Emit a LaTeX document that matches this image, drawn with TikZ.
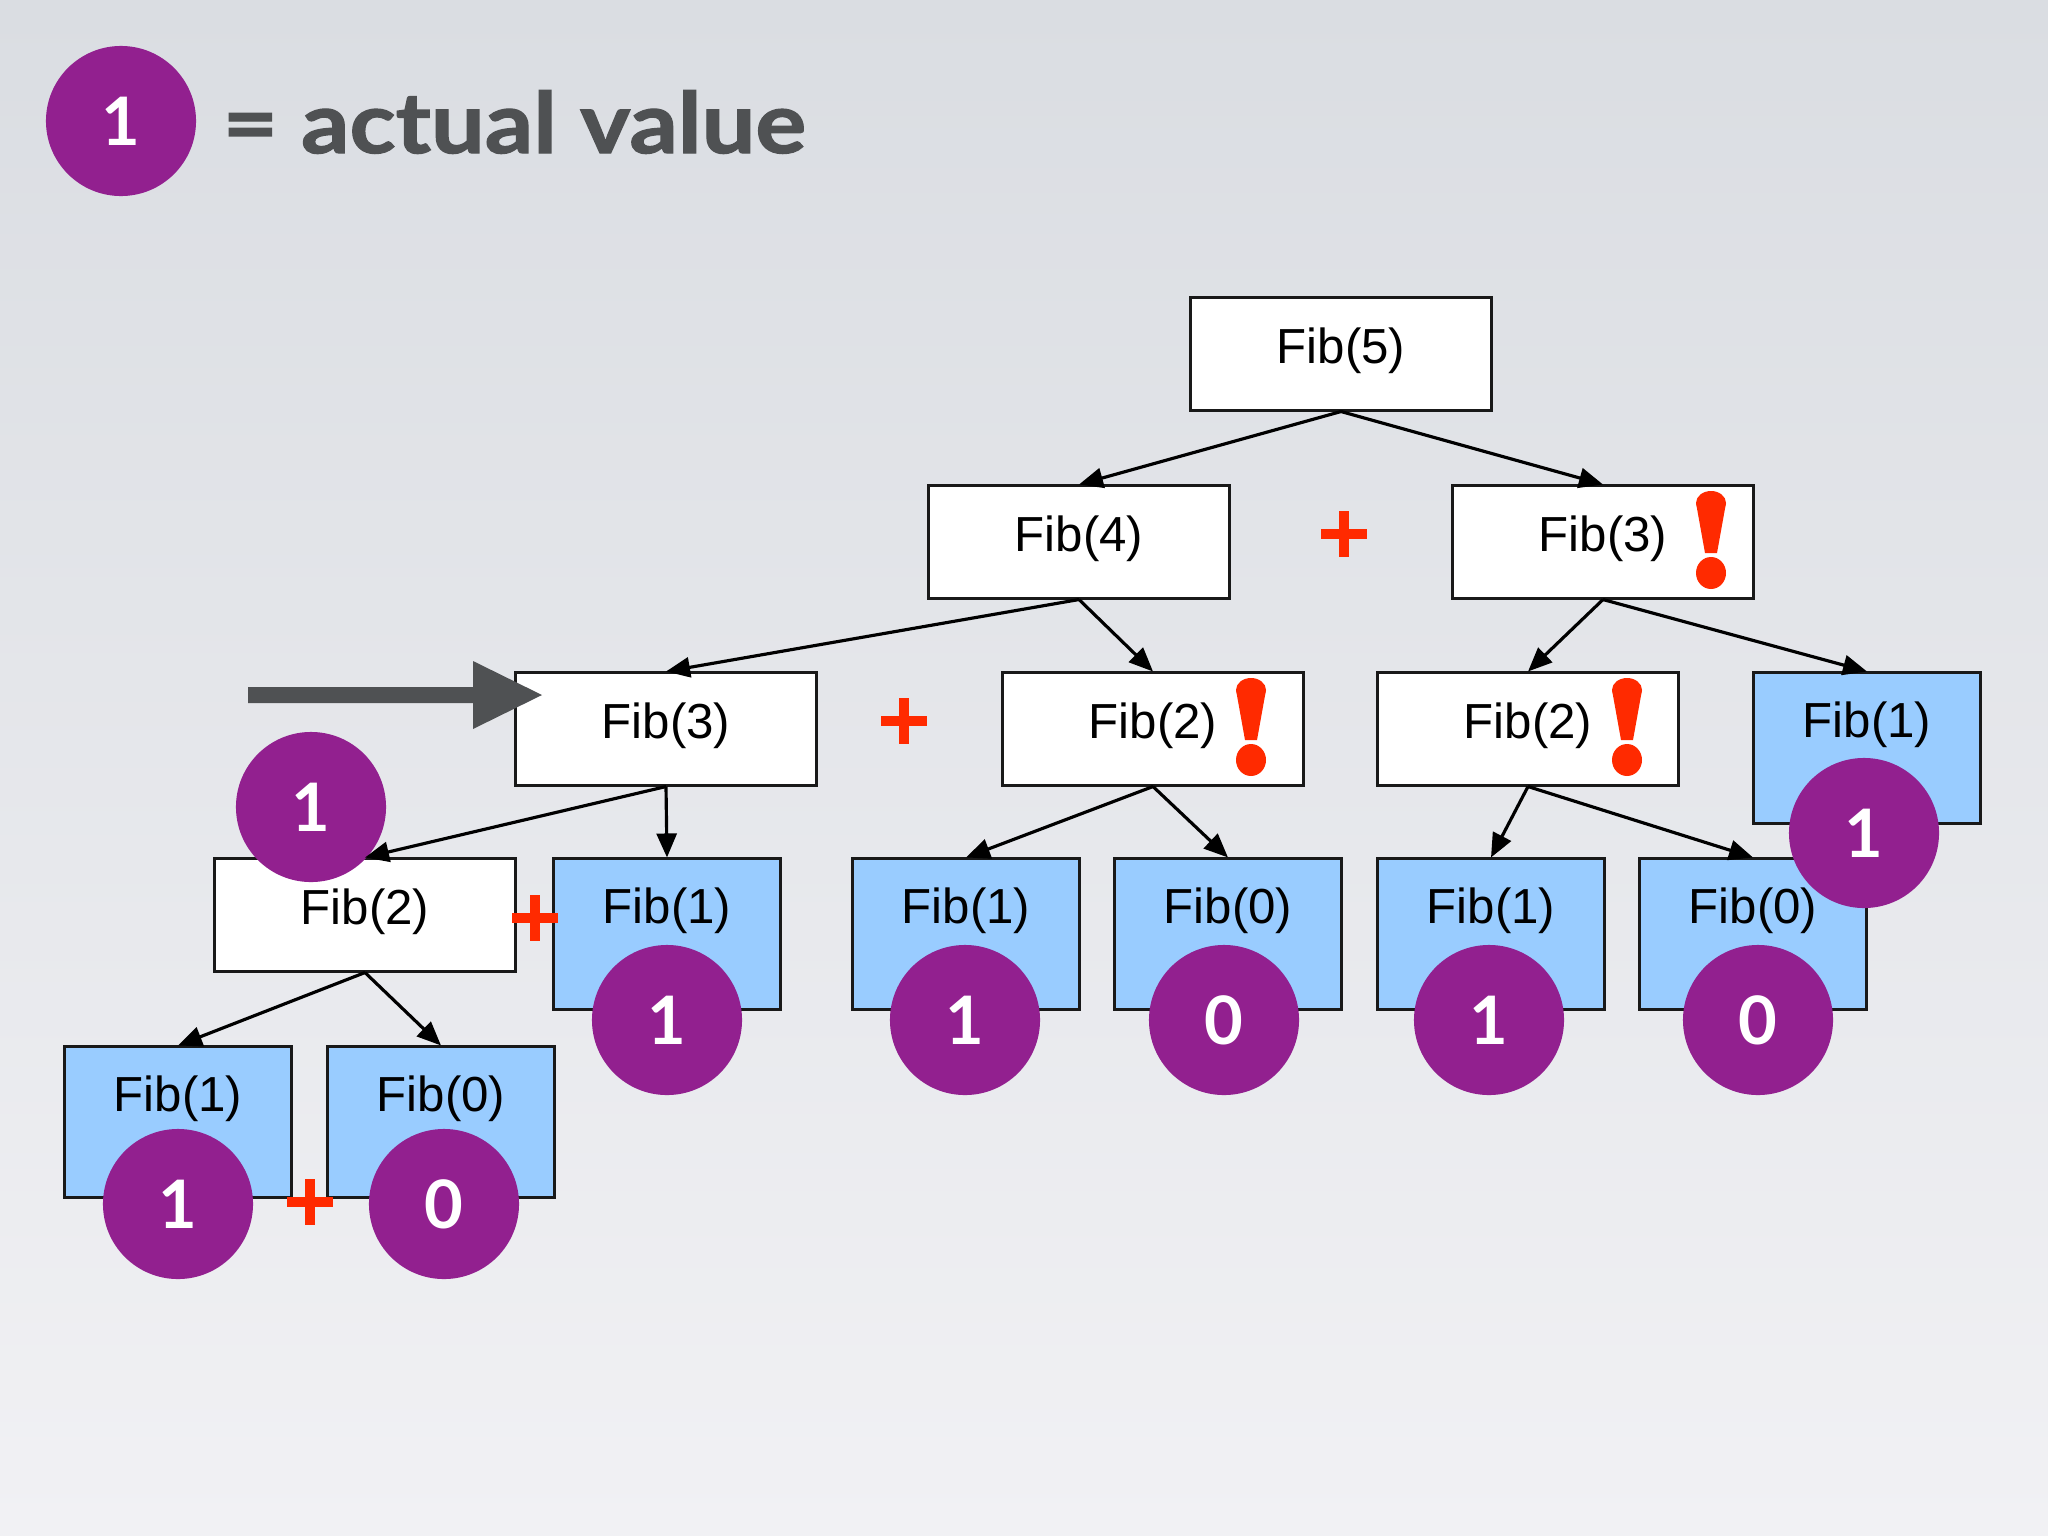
\documentclass[tikz,border=0pt]{standalone}
\usepackage{fontspec}
\setmainfont{Liberation Sans}
\newfontfamily\latofont{Lato}
\newfontfamily\legendfont{Lato}[FakeStretch=1.13,FakeBold=1.5]
\usetikzlibrary{arrows.meta}
\definecolor{bgtop}{HTML}{DADDE2}
\definecolor{bgbot}{HTML}{F1F1F4}
\definecolor{purp}{HTML}{92208F}
\definecolor{boxblue}{HTML}{99CCFF}
\definecolor{redmark}{HTML}{FF2A00}
\definecolor{legendgray}{HTML}{4F5153}
\begin{document}
\begin{tikzpicture}[x=0.01cm,y=-0.01cm,
  fibbox/.style={draw=black!90,line width=0.85pt,fill=white,minimum width=3cm,minimum height=1.12cm,inner sep=0pt,font=\fontsize{14}{14}\selectfont,text height=0.4cm,text depth=0.22cm},
  basebox/.style={fibbox,fill=boxblue,minimum width=2.26cm,minimum height=1.5cm,text depth=0.62cm},
  val/.style={circle,fill=purp,minimum size=1.5cm,inner sep=0pt,text=white,font=\latofont\bfseries\fontsize{19}{19}\selectfont},
  link/.style={-{Triangle[length=0.24cm,width=0.2cm]},line width=0.9pt},
  plus/.pic={\draw[redmark,line width=2.6pt] (-23,0)--(23,0) (0,-23)--(0,23);},
  bang/.pic={\fill[redmark] (-15,12) -- (15,12) -- (6,62) -- (-6,62) -- cycle;
             \fill[redmark] (0,12) ellipse[x radius=15,y radius=12];
             \fill[redmark] (0,82) ellipse[x radius=15,y radius=16];}
]
\useasboundingbox (0,0) rectangle (2048,1536);
\shade[top color=bgtop,bottom color=bgbot] (0,0) rectangle (2048,1536);

% legend
\node[val] (leg) at (121,121) {1};
\node[anchor=base west,inner sep=0pt,text=legendgray,font=\legendfont\bfseries\fontsize{24}{24}\selectfont] (legtxt) at (222,153) {= actual value};

% boxes
\node[fibbox] (f5) at (1341,354) {Fib(5)};
\node[fibbox] (f4) at (1079,542) {Fib(4)};
\node[fibbox] (f3r) at (1603,542) {Fib(3)};
\node[fibbox] (f3) at (666,729) {Fib(3)};
\node[fibbox] (f2m) at (1153,729) {Fib(2)};
\node[fibbox] (f2r) at (1528,729) {Fib(2)};
\node[basebox] (f1r) at (1867,748) {Fib(1)};
\node[fibbox] (f2l) at (365,915) {Fib(2)};
\node[basebox] (f1a) at (667,934) {Fib(1)};
\node[basebox] (f1b) at (966,934) {Fib(1)};
\node[basebox] (f0b) at (1228,934) {Fib(0)};
\node[basebox] (f1c) at (1491,934) {Fib(1)};
\node[basebox] (f0c) at (1753,934) {Fib(0)};
\node[basebox] (f1d) at (178,1122) {Fib(1)};
\node[basebox] (f0d) at (441,1122) {Fib(0)};

% value circles
\node[val] (v2l) at (311,807) {1};
\node[val] (v1a) at (667,1020) {1};
\node[val] (v1b) at (965,1020) {1};
\node[val] (v0b) at (1224,1020) {0};
\node[val] (v1c) at (1489,1020) {1};
\node[val] (v0c) at (1758,1020) {0};
\node[val] (v1r) at (1864,833) {1};
\node[val] (v1d) at (178,1204) {1};
\node[val] (v0d) at (444,1204) {0};

% connectors
\draw[link] (f5.south) -- (f4.north);
\draw[link] (f5.south) -- (f3r.north);
\draw[link] (f4.south) -- (f3.north);
\draw[link] (f4.south) -- (f2m.north);
\draw[link] (f3r.south) -- (f2r.north);
\draw[link] (f3r.south) -- (f1r.north);
\draw[link] (f3.south) -- (f2l.north);
\draw[link] (f3.south) -- (f1a.north);
\draw[link] (f2m.south) -- (f1b.north);
\draw[link] (f2m.south) -- (f0b.north);
\draw[link] (f2r.south) -- (f1c.north);
\draw[link] (f2r.south) -- (f0c.north);
\draw[link] (f2l.south) -- (f1d.north);
\draw[link] (f2l.south) -- (f0d.north);

% plus signs
\pic at (1344,534) {plus};
\pic at (904,721) {plus};
\pic at (535,918) {plus};
\pic at (310,1202) {plus};

% exclamation marks
\pic at (1711,491) {bang};
\pic at (1251,678) {bang};
\pic at (1627,678) {bang};

% pointer arrow
\fill[legendgray] (248,687) -- (473,687) -- (473,661) -- (542,695) -- (473,729) -- (473,703) -- (248,703) -- cycle;
\end{tikzpicture}
\end{document}
